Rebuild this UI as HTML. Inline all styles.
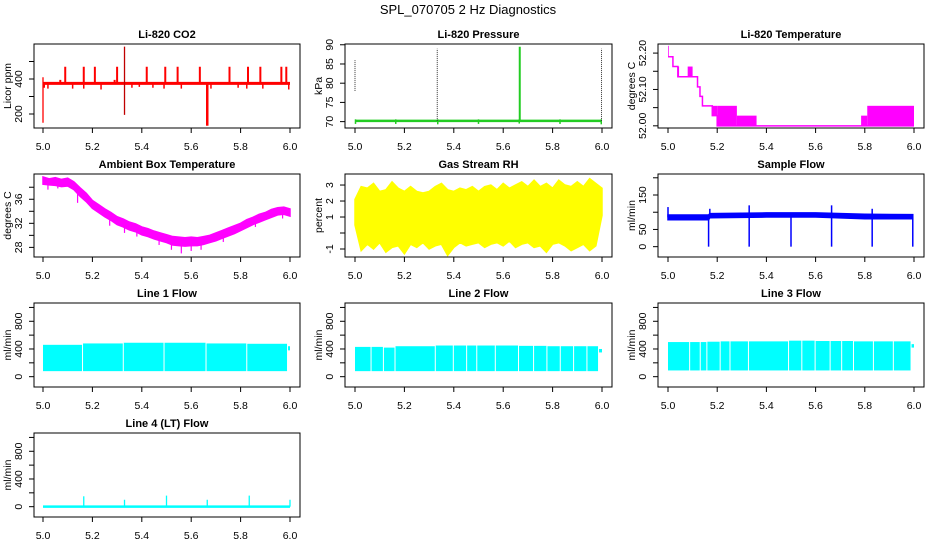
<!DOCTYPE html>
<html><head><meta charset="utf-8">
<style>
html,body{margin:0;padding:0;background:#fff;}
svg{display:block;font-family:"Liberation Sans",Arial,sans-serif;}
.tk{font-size:10.5px;fill:#000;}
.tt{font-size:11px;font-weight:bold;fill:#000;}
</style></head>
<body>
<svg id="c" width="936" height="540" viewBox="0 0 936 540" xmlns="http://www.w3.org/2000/svg">
<text x="468" y="14" text-anchor="middle" font-size="13">SPL_070705  2 Hz Diagnostics</text>
</svg>
<script>
const NS="http://www.w3.org/2000/svg";
const svg=document.getElementById('c');
const xTicks=[5.0,5.2,5.4,5.6,5.8,6.0];
const xTickLabels=["5.0","5.2","5.4","5.6","5.8","6.0"];
// CO2
const co2BaseX=[5.0,6.0];
const co2BaseY=[375,375];
const co2SpikeX=[5.07,5.09,5.165,5.21,5.29,5.30,5.42,5.495,5.545,5.635,5.755,5.83,5.88,5.965,5.985];
const co2SpikeHi=[395,470,470,470,395,470,470,470,470,470,470,470,470,470,470];
const co2DipX=[5.005,5.02,5.12,5.165,5.235,5.36,5.39,5.445,5.49,5.56,5.68,5.79,5.825,5.89,5.995];
const co2DipLo=[350,345,345,345,340,350,355,350,345,345,345,350,345,345,340];
const co2BigX=[5.0,5.33,5.665];
const co2BigLo=[150,195,133];
const co2BigHi=[410,585,380];
// Pressure
const presBaseX=[5.0,6.0];
const presBaseY=[70.2,70.2];
const presLineX=[5.0,5.333,5.667,5.998];
const presLineLo=[78,70.2,70.2,70.2];
const presLineHi=[86,89,89.5,89];
const presDipX=[5.002,5.165,5.335,5.5,5.665,5.83,5.997];
const presDipLo=[69.4,69.4,69.3,69.4,69.5,69.4,69.3];
// Li-820 temp steps
const tempX0=[5.0,5.003,5.02,5.04,5.045,5.08,5.10,5.12,5.13,5.14,5.18,5.20,5.28,5.36,5.785,5.81];
const tempX1=[5.003,5.02,5.04,5.045,5.08,5.10,5.12,5.13,5.14,5.18,5.20,5.28,5.36,5.785,5.81,6.0];
const tempLo=[52.19,52.19,52.163,52.135,52.135,52.135,52.135,52.107,52.081,52.055,52.028,52.0,52.0,52.0,52.0,52.0];
const tempHi=[52.22,52.19,52.163,52.163,52.135,52.163,52.135,52.107,52.081,52.055,52.055,52.055,52.028,52.0,52.028,52.055];
// Ambient
const ambX=[5.0,5.025,5.05,5.075,5.1,5.125,5.15,5.175,5.2,5.225,5.25,5.275,5.3,5.325,5.35,5.375,5.4,5.425,5.45,5.475,5.5,5.525,5.55,5.575,5.6,5.625,5.65,5.675,5.7,5.725,5.75,5.775,5.8,5.825,5.85,5.875,5.9,5.925,5.95,5.975,6.0];
const ambHi=[39.7,39.4,39.6,39.3,39.5,38.9,37.9,37.0,35.8,35.1,34.4,33.8,33.1,32.7,32.2,31.9,31.4,31.1,30.7,30.4,30.1,29.8,29.7,29.6,29.7,29.6,29.8,30.0,30.4,30.8,31.2,31.6,32.0,32.6,33.0,33.5,33.8,34.3,34.6,34.7,34.4];
const ambLo=[38.5,38.4,38.3,38.1,38.2,37.6,36.5,35.6,34.5,33.8,33.1,32.5,31.8,31.4,30.9,30.6,30.1,29.8,29.4,29.1,28.8,28.4,28.3,28.2,28.3,28.3,28.5,28.8,29.1,29.5,29.9,30.3,30.8,31.3,31.8,32.2,32.6,33.0,33.4,33.5,33.2];
const ambSpikeX=[5.02,5.06,5.14,5.27,5.33,5.38,5.47,5.52,5.56,5.6,5.64,5.73,5.86,5.97];
const ambSpikeLo=[37.6,37.8,35.4,31.6,30.4,29.8,28.4,27.6,27.0,27.4,27.6,28.9,31.4,32.8];
// RH
const rhX=[5.0,5.025,5.05,5.075,5.1,5.125,5.15,5.175,5.2,5.225,5.25,5.275,5.3,5.325,5.35,5.375,5.4,5.425,5.45,5.475,5.5,5.525,5.55,5.575,5.6,5.625,5.65,5.675,5.7,5.725,5.75,5.775,5.8,5.825,5.85,5.875,5.9,5.925,5.95,5.975,6.0];
const rhHi=[2.1,2.9,2.8,3.1,2.6,2.7,3.2,2.8,2.6,2.9,2.6,2.5,2.6,2.9,3.1,2.7,2.6,2.8,2.7,2.9,2.6,2.9,3.0,2.7,3.1,2.8,3.0,3.2,2.9,3.3,2.9,3.1,2.8,3.3,3.0,2.9,3.2,2.9,3.4,3.1,2.8];
const rhLo=[0.5,-1.1,-0.7,-1.0,-0.6,-1.2,-0.9,-0.8,-1.3,-0.7,-0.9,-0.6,-1.0,-0.8,-0.7,-1.4,-0.9,-0.6,-0.8,-0.7,-0.6,-0.9,-0.7,-0.6,-0.8,-0.5,-0.9,-0.7,-0.6,-0.9,-0.8,-1.2,-0.7,-0.6,-0.8,-1.1,-0.9,-0.7,-1.1,-0.8,1.1];
// Sample flow
const sfX=[5.0,5.165,5.17,5.4,5.6,5.8,5.995];
const sfLo=[78,78,84,86,86,81,81];
const sfHi=[92,92,96,98,98,94,93];
const sfDipX=[5.165,5.33,5.5,5.665,5.83,5.995];
const sfDipLo=[0,0,0,0,0,0];
const sfSpikeX=[5.0,5.17,5.33,5.665,5.83];
const sfSpikeHi=[115,110,120,120,110];
// Line flows
const l1Gaps=[5.16,5.325,5.49,5.66,5.825,5.99];
const l1Hi=[460,480,490,490,480,475,440];
const l1Lo=[80,80,80,80,80,80,380];
const l2Gaps=[5.065,5.115,5.162,5.325,5.398,5.452,5.493,5.568,5.662,5.723,5.777,5.831,5.885,5.939,5.986];
const l2Hi=[430,430,420,440,450,450,450,450,450,445,445,440,440,440,440,400];
const l2Lo=[80,80,80,80,80,80,80,80,80,80,80,80,80,80,80,350];
const l3Gaps=[5.088,5.131,5.158,5.212,5.252,5.327,5.49,5.544,5.598,5.659,5.706,5.754,5.835,5.916,5.988];
const l3Hi=[500,500,500,505,510,510,510,520,520,515,515,515,510,510,510,470];
const l3Lo=[90,90,90,90,90,90,90,90,90,90,90,90,90,90,90,420];
const l4BaseX=[5.0,6.0];
const l4BaseY=[0,0];
const l4SpikeX=[5.165,5.33,5.5,5.665,5.835,6.0];
const l4SpikeHi=[150,100,160,100,160,100];

const cols=[{L:34,R:300,x0:43,x1:290},{L:345,R:612,x0:355,x1:602},{L:658,R:924,x0:668,x1:914}];
const rows=[{T:44,B:128},{T:174,B:257},{T:303,B:387},{T:433,B:517}];

function mk(tag,attrs,parent){const e=document.createElementNS(NS,tag);for(const k in attrs)e.setAttribute(k,attrs[k]);(parent||svg).appendChild(e);return e;}

function frame(ci,ri,ymin,ymax,title,ytitle,yTicks,yLabels,name){
  const c=cols[ci],r=rows[ri];
  const g=mk('g',{});
  
  
  const sx=v=>c.x0+(v-5)*(c.x1-c.x0);
  const sy=v=>r.B-(v-ymin)/(ymax-ymin)*(r.B-r.T);
  const plot=mk('g',{},g);
  
  
  const box=mk('rect',{x:c.L,y:r.T,width:c.R-c.L,height:r.B-r.T,fill:'none',stroke:'#000','stroke-width':1},g);
  
  
  const xa=mk('g',{},g);
  
  
  mk('line',{x1:sx(xTicks[0]),x2:sx(xTicks[xTicks.length-1]),y1:r.B,y2:r.B,stroke:'#000'},xa);
  xTicks.forEach((t,i)=>{
    mk('line',{x1:sx(t),x2:sx(t),y1:r.B,y2:r.B+5,stroke:'#000'},xa);
    const tx=mk('text',{x:sx(t),y:r.B+22,'text-anchor':'middle',class:'tk'},xa);
    tx.textContent=xTickLabels[i];
    
    
  });
  const ya=mk('g',{},g);
  
  
  mk('line',{x1:c.L,x2:c.L,y1:sy(yTicks[0]),y2:sy(yTicks[yTicks.length-1]),stroke:'#000'},ya);
  yTicks.forEach((t,i)=>{
    mk('line',{x1:c.L-5,x2:c.L,y1:sy(t),y2:sy(t),stroke:'#000'},ya);
    if(yLabels[i]!==''){
      const ty=mk('text',{x:0,y:0,'text-anchor':'middle',class:'tk',transform:`translate(${c.L-12},${sy(t)}) rotate(-90)`},ya);
      ty.textContent=yLabels[i];
      
      
    }
  });
  const yt=mk('text',{x:0,y:0,'text-anchor':'middle',class:'tk',transform:`translate(${c.L-23},${(r.T+r.B)/2}) rotate(-90)`},g);
  yt.textContent=ytitle;
  
  
  const tt=mk('text',{x:(c.L+c.R)/2,y:r.T-6,'text-anchor':'middle',class:'tt'},g);
  tt.textContent=title;
  
  
  return {sx,sy,g:plot};
}
function vline(p,x,lo,hi,col,w,extra){const e=mk('line',Object.assign({x1:p.sx(x),x2:p.sx(x),y1:p.sy(lo),y2:p.sy(hi),stroke:col,'stroke-width':w},extra||{}),p.g);return e;}
function poly(p,xs,ys,col,w){return mk('polyline',{points:xs.map((x,i)=>p.sx(x)+','+p.sy(ys[i])).join(' '),fill:'none',stroke:col,'stroke-width':w},p.g);}
function band(p,xs,lo,hi,col){const pts=xs.map((x,i)=>p.sx(x)+','+p.sy(hi[i])).concat(xs.slice().reverse().map((x,j)=>p.sx(x)+','+p.sy(lo[xs.length-1-j])));return mk('polygon',{points:pts.join(' '),fill:col,stroke:col,'stroke-width':1.5},p.g);}
function gapBands(p,gaps,hi,lo,col){
  const edges=[5.0].concat(gaps).concat([6.0]);
  for(let i=0;i<edges.length-1;i++){
    const a=p.sx(edges[i])+(i>0?0.5:0),b=p.sx(edges[i+1])-(i<edges.length-2?0.5:0);
    const e=mk('rect',{x:a,y:p.sy(hi[i]),width:Math.max(0.8,b-a),height:p.sy(lo[i])-p.sy(hi[i]),fill:col},p.g);
    
    
  }
}

// Panel 1 CO2
let p=frame(0,0,120,600,'Li-820 CO2','Licor ppm',[200,300,400,500],['200','','400',''],'co2');
co2SpikeX.forEach((x,i)=>vline(p,x,375,co2SpikeHi[i],'#ff0000',2));
co2DipX.forEach((x,i)=>vline(p,x,co2DipLo[i],375,'#ff0000',1.5));
poly(p,co2BaseX,co2BaseY,'#ff0000',3);
co2BigX.forEach((x,i)=>vline(p,x,co2BigLo[i],co2BigHi[i],i==1?'#c00000':'#ff0000',i==2?2.5:1.3));

// Panel 2 Pressure
p=frame(1,0,68.34,90.2,'Li-820 Pressure','kPa',[70,75,80,85,90],['70','75','80','85','90'],'pressure');
poly(p,presBaseX,presBaseY,'#22cc22',2.5);
presDipX.forEach((x,i)=>vline(p,x,presDipLo[i],70.6,'#22cc22',1.5));
presLineX.forEach((x,i)=>vline(p,x,presLineLo[i],presLineHi[i],i==2?'#22cc22':'#333',i==2?2:1,{'stroke-dasharray':i==2?'':'1,1'}));

// Panel 3 Temp
p=frame(2,0,51.994,52.225,'Li-820 Temperature','degrees C',[52.0,52.05,52.1,52.15,52.2],['52.00','','52.10','','52.20'],'li820-temp');
{const xs=[],ys=[];tempX0.forEach((x,i)=>{xs.push(x,tempX1[i]);ys.push(tempLo[i],tempLo[i]);});poly(p,xs,ys,'#ff00ff',1.5);}
tempX0.forEach((x,i)=>{if(tempHi[i]>tempLo[i]){const e=mk('rect',{x:p.sx(x),y:p.sy(tempHi[i]),width:p.sx(tempX1[i])-p.sx(x),height:p.sy(tempLo[i])-p.sy(tempHi[i]),fill:'#ff00ff'},p.g);}});

// Panel 4 Ambient
p=frame(0,1,26.4,40.2,'Ambient Box Temperature','degrees C',[28,30,32,34,36,38],['28','','32','','36',''],'ambient-temp');
band(p,ambX,ambLo,ambHi,'#ff00ff');
ambSpikeX.forEach((x,i)=>vline(p,x,ambSpikeLo[i],ambSpikeLo[i]+1.5,'#ff00ff',1.2));

// Panel 5 RH
p=frame(1,1,-1.5,3.69,'Gas Stream RH','percent',[-1,0,1,2,3],['-1','','1','2','3'],'rh');
band(p,rhX,rhLo,rhHi,'#ffff00');

// Panel 6 Sample flow
p=frame(2,1,-30,211,'Sample Flow','ml/min',[0,50,100,150,200],['0','50','','150',''],'sample-flow');
band(p,sfX,sfLo,sfHi,'#0000ff');
sfDipX.forEach((x,i)=>vline(p,x,sfDipLo[i],85,'#0000ff',1.5));
sfSpikeX.forEach((x,i)=>vline(p,x,85,sfSpikeHi[i],'#0000ff',1.5));

// Line flows
const lt=[0,200,400,600,800,1000],ll=['0','','400','','800',''];
p=frame(0,2,-149,1064,'Line 1 Flow','ml/min',lt,ll,'line1-flow');
gapBands(p,l1Gaps,l1Hi,l1Lo,'#00ffff');
p=frame(1,2,-149,1064,'Line 2 Flow','ml/min',lt,ll,'line2-flow');
gapBands(p,l2Gaps,l2Hi,l2Lo,'#00ffff');
p=frame(2,2,-149,1064,'Line 3 Flow','ml/min',lt,ll,'line3-flow');
gapBands(p,l3Gaps,l3Hi,l3Lo,'#00ffff');
p=frame(0,3,-149,1064,'Line 4 (LT) Flow','ml/min',lt,ll,'line4-flow');
poly(p,l4BaseX,l4BaseY,'#00ffff',2.5);
l4SpikeX.forEach((x,i)=>vline(p,x,0,l4SpikeHi[i],'#00ffff',1.3));
</script>
</body></html>
